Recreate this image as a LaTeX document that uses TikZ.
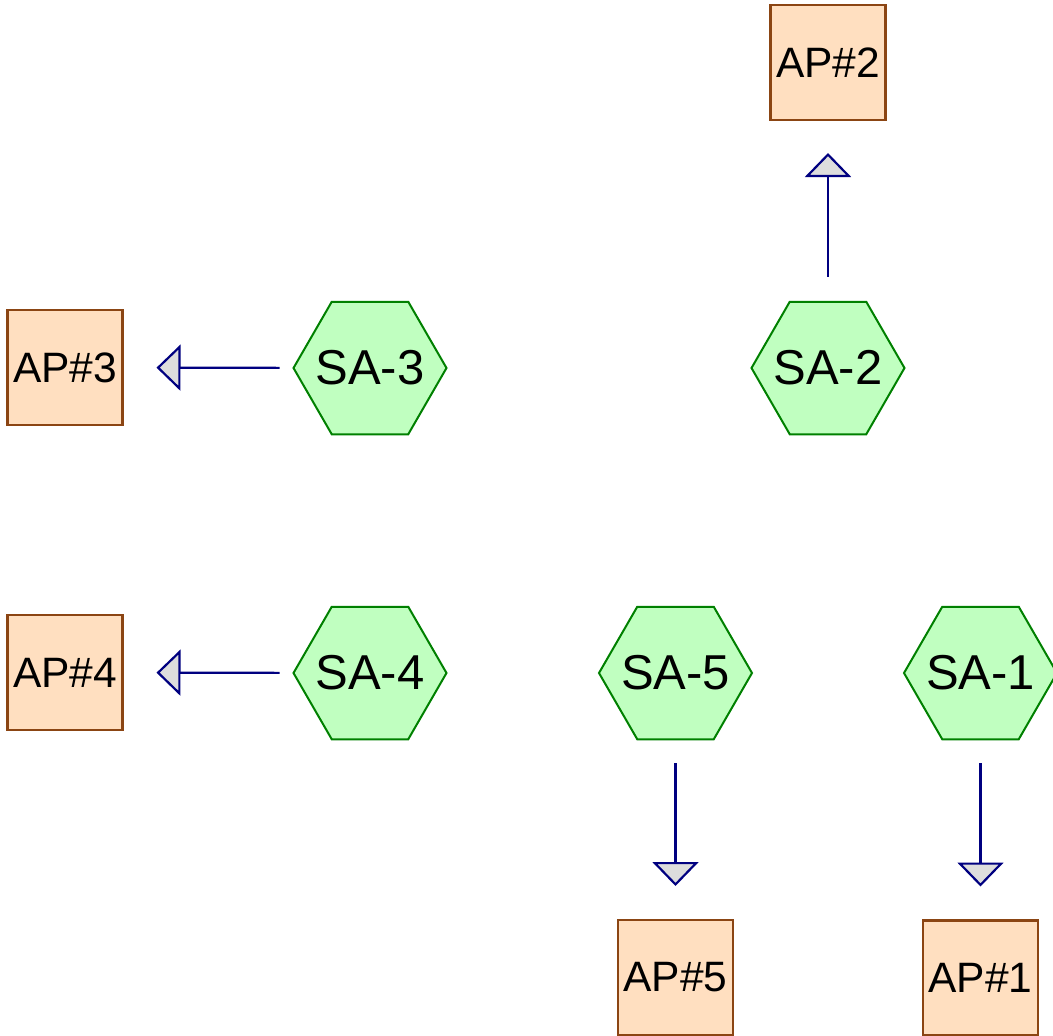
\documentclass[tikz,border=0pt]{standalone}
\usepackage{fontspec}
\setmainfont{Liberation Sans}
\usetikzlibrary{shapes.geometric,arrows.meta}
\definecolor{hexfill}{HTML}{C0FFC0}
\definecolor{hexline}{HTML}{008000}
\definecolor{apfill}{HTML}{FFDFC0}
\definecolor{apline}{HTML}{8B4513}
\definecolor{arrline}{HTML}{000080}
\definecolor{tipfill}{HTML}{DDDDDD}
\tikzset{
  hexlabel/.style={inner sep=0pt, outer sep=0pt, font=\fontsize{49}{55}\selectfont},
  sa/.style={regular polygon, regular polygon sides=6, minimum size=153pt, inner sep=0pt, outer sep=0pt,
    fill=hexfill, draw=hexline, line width=2pt, label={[hexlabel]center:#1}},
  ap/.style={rectangle, minimum width=115pt, minimum height=115pt, inner sep=0pt, outer sep=0pt,
    fill=apfill, draw=apline, line width=2.2pt, font=\fontsize{42.5}{48}\selectfont},
  flow/.style={draw=arrline, line width=2.2pt,
    -{Triangle[width=46pt, length=24pt, fill=tipfill]}},
}
\begin{document}
\begin{tikzpicture}[x=1pt, y=-1pt]
\useasboundingbox (0,0) rectangle (1053,1036);
\clip (0,0) rectangle (1053,1036);
\node[ap] (AP2) at (828,62.5) {AP\#2};
\node[ap] (AP3) at (65,367.5) {AP\#3};
\node[ap] (AP4) at (65,672.5) {AP\#4};
\node[ap] (AP5) at (675.5,977.5) {AP\#5};
\node[ap] (AP1) at (980.5,978) {AP\#1};
\node[sa=SA-3] (SA3) at (370,368) {};
\node[sa=SA-2] (SA2) at (828,368) {};
\node[sa=SA-4] (SA4) at (370,673) {};
\node[sa=SA-5] (SA5) at (675.5,673) {};
\node[sa=SA-1] (SA1) at (980.5,673) {};
\draw[flow, shorten <=25pt, shorten >=33pt] (SA2) -- (AP2);
\draw[flow, shorten <=14pt, shorten >=34pt] (SA3) -- (AP3);
\draw[flow, shorten <=14pt, shorten >=34pt] (SA4) -- (AP4);
\draw[flow, shorten <=24pt, shorten >=34pt] (SA5) -- (AP5);
\draw[flow, shorten <=24pt, shorten >=34pt] (SA1) -- (AP1);
\end{tikzpicture}
\end{document}
